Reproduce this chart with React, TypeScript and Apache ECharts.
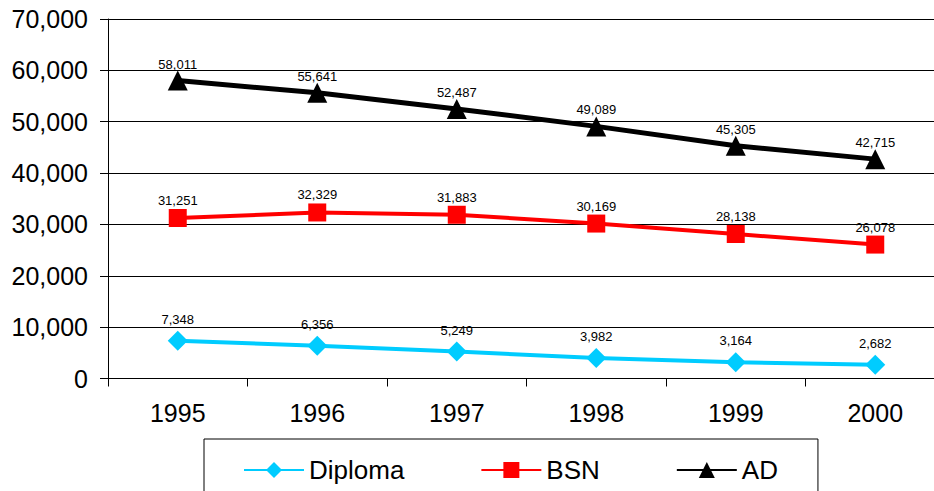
import React, { useEffect, useRef } from "react";
import * as echarts from "echarts";

const years = ["1995", "1996", "1997", "1998", "1999", "2000"];
const diploma = [7348, 6356, 5249, 3982, 3164, 2682];
const bsn = [31251, 32329, 31883, 30169, 28138, 26078];
const ad = [58011, 55641, 52487, 49089, 45305, 42715];

const FONT = "'Liberation Sans', Arial, sans-serif";
const fmt = (v: number) => v.toLocaleString("en-US");

export default function App() {
  const ref = useRef<HTMLDivElement>(null);
  useEffect(() => {
    if (!ref.current) return;
    const chart = echarts.init(ref.current, undefined, { renderer: "svg" });
    const mk = (name: string, data: number[], color: string, symbol: string, size: number, width: number, dist: number) => ({
      name,
      type: "line",
      data,
      symbol,
      symbolSize: size,
      itemStyle: { color },
      lineStyle: { color, width },
      label: {
        show: true,
        position: "top",
        distance: dist,
        color: "#000",
        fontSize: 13,
        fontFamily: FONT,
        formatter: (p: any) => fmt(p.value),
      },
    });
    chart.setOption({
      animation: false,
      textStyle: { fontFamily: FONT },
      grid: { left: 108, top: 19, width: 837, height: 359.5, outerBoundsMode: "none", containLabel: false },
      legend: {
        left: 204,
        top: 439,
        padding: [18, 40, 30, 39],
        borderColor: "#000",
        borderWidth: 1,
        itemWidth: 60,
        itemHeight: 20,
        itemGap: 76,
        textStyle: { fontSize: 26, color: "#000", fontFamily: FONT },
        data: ["Diploma", "BSN", "AD"],
      },
      xAxis: {
        type: "category",
        data: years,
        boundaryGap: true,
        axisLine: { lineStyle: { color: "#000", width: 1 } },
        axisTick: { show: true, length: 8, lineStyle: { color: "#000" } },
        axisLabel: { fontSize: 25, color: "#000", margin: 22, fontFamily: FONT },
      },
      yAxis: {
        type: "value",
        min: 0,
        max: 70000,
        interval: 10000,
        axisLine: { show: true, lineStyle: { color: "#000", width: 1 } },
        axisTick: { show: true, length: 8, lineStyle: { color: "#000" } },
        splitLine: { lineStyle: { color: "#000", width: 1 } },
        axisLabel: { fontSize: 25, color: "#000", margin: 20, fontFamily: FONT, formatter: (v: number) => fmt(v) },
      },
      series: [
        mk("Diploma", diploma, "#00CCFF", "diamond", 20, 4, 5),
        mk("BSN", bsn, "#FF0000", "rect", 18, 4, 2),
        mk("AD", ad, "#000000", "triangle", 20, 5, 0),
      ],
    });
    return () => chart.dispose();
  }, []);
  return (
    <div style={{ position: "absolute", left: 0, top: 0, width: 934, height: 491, overflow: "hidden", background: "#fff" }}>
      <div ref={ref} style={{ width: 980, height: 491 }} />
    </div>
  );
}
